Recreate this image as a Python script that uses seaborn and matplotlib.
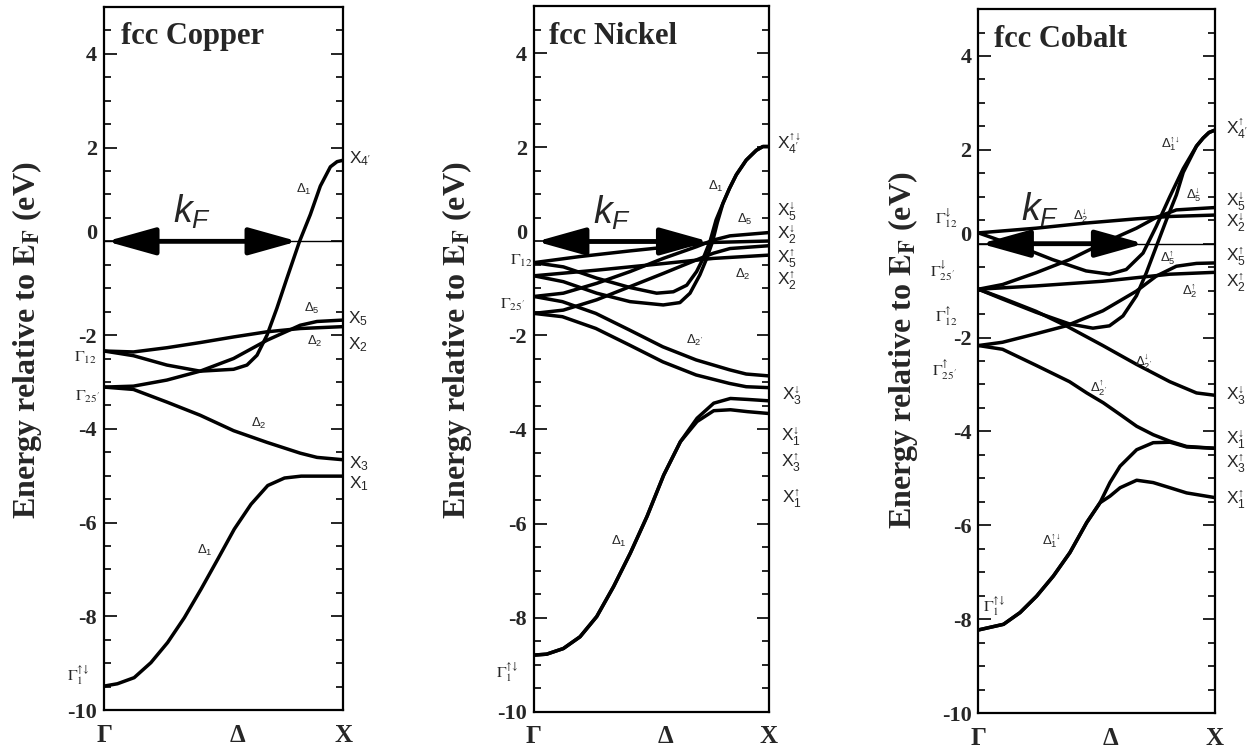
import matplotlib
matplotlib.use("Agg")
import matplotlib.pyplot as plt
import numpy as np
import pandas as pd
import seaborn as sns
from matplotlib.ticker import MultipleLocator
from matplotlib.transforms import ScaledTranslation

sns.set_theme(style="white")
plt.rcParams["font.family"] = ["Liberation Serif", "DejaVu Serif"]
plt.rcParams["mathtext.fontset"] = "custom"
plt.rcParams["mathtext.rm"] = "Liberation Sans"
plt.rcParams["mathtext.it"] = "Liberation Sans:italic"
plt.rcParams["mathtext.bf"] = "Liberation Sans:bold"
plt.rcParams["axes.unicode_minus"] = False

# ---------------- data (k in units of Gamma->X, energy in eV relative to E_F) -------------
fermi_level = 0.0
x_points = [0.0, 0.56, 1.0]
x_labels = ["Γ", "Δ", "X"]

# ---- fcc Copper ----
cu_d1_low_k = [0, .056, .126, .196, .266, .336, .406, .476, .545, .615, .685, .755, .825, 1.0]
cu_d1_low_E = [-9.49, -9.44, -9.31, -8.99, -8.56, -8.03, -7.42, -6.78, -6.14, -5.61, -5.21, -5.05, -5.01, -5.01]
cu_d2p_k = [0, .123, .263, .402, .542, .682, .821, .891, 1.0]
cu_d2p_E = [-3.11, -3.16, -3.43, -3.71, -4.04, -4.29, -4.52, -4.61, -4.66]
cu_d5_k = [0, .123, .263, .402, .542, .682, .821, .891, 1.0]
cu_d5_E = [-3.11, -3.09, -2.96, -2.77, -2.50, -2.11, -1.79, -1.71, -1.68]
cu_d2_k = [0, .123, .263, .402, .542, .682, .821, 1.0]
cu_d2_E = [-2.34, -2.36, -2.27, -2.16, -2.04, -1.93, -1.86, -1.82]
cu_d1_up_k = [0, .123, .263, .402, .542, .598, .640, .682, .723, .765, .818, .863, .905, .947, .975, 1.0]
cu_d1_up_E = [-2.34, -2.44, -2.64, -2.77, -2.73, -2.64, -2.43, -2.0, -1.43, -0.79, 0.0, 0.57, 1.18, 1.59, 1.70, 1.73]
cu_kF = 0.81

# ---- fcc Nickel ----
ni_d1_dn_k = [0, .125, .267, .409, .522, .593, .650, .692, .720, .749, .775, .804, .832, .861, .903, .946, .974, 1.0]
ni_d1_dn_E = [-0.45, -0.54, -0.78, -0.98, -1.10, -1.07, -0.93, -0.64, -0.36, 0.0, 0.46, 0.81, 1.13, 1.42, 1.73, 1.94, 2.02, 2.02]
ni_d1_up_k = [0, .125, .267, .409, .55, .621, .664, .706, .735, .760, .780, .804, .832, .861, .903, .946, .974, 1.0]
ni_d1_up_E = [-0.73, -0.855, -1.10, -1.28, -1.35, -1.30, -1.10, -0.71, -0.36, 0.0, 0.40, 0.81, 1.13, 1.42, 1.73, 1.94, 2.02, 2.02]
ni_d2_dn_k = [0, .196, .409, .621, .763, 1.0]
ni_d2_dn_E = [-0.45, -0.32, -0.20, -0.09, -0.02, 0.01]
ni_d2_up_k = [0, .267, .55, .763, 1.0]
ni_d2_up_E = [-0.73, -0.61, -0.47, -0.36, -0.29]
ni_d5_k = [0, .125, .267, .409, .55, .692, .763, .834, 1.0]
ni_d5_dn_E = [-1.17, -1.10, -0.89, -0.64, -0.36, -0.11, 0.03, 0.12, 0.19]
ni_d5_up_E = [-1.53, -1.46, -1.24, -0.96, -0.68, -0.39, -0.25, -0.15, -0.09]
ni_d2p_k = [0, .121, .263, .405, .548, .69, .832, .903, 1.0]
ni_d2p_dn_E = [-1.17, -1.28, -1.53, -1.88, -2.24, -2.52, -2.73, -2.82, -2.86]
ni_d2p_up_E = [-1.53, -1.60, -1.85, -2.20, -2.56, -2.84, -3.02, -3.09, -3.11]
ni_d1_low_k = [0, .054, .125, .196, .267, .339, .41, .481, .552, .623, .694, .765, .836, .908, 1.0]
ni_d1_low_dn_E = [-8.80, -8.78, -8.66, -8.41, -7.98, -7.34, -6.63, -5.85, -4.97, -4.26, -3.76, -3.44, -3.34, -3.36, -3.39]
ni_d1_low_up_E = [-8.80, -8.78, -8.66, -8.41, -7.98, -7.34, -6.63, -5.85, -4.97, -4.26, -3.83, -3.60, -3.58, -3.62, -3.66]
ni_kF = 0.745

# ---- fcc Cobalt ----
co_d2_dn_k = [0, .243, .455, .668, .809, 1.0]
co_d2_dn_E = [0.23, 0.33, 0.44, 0.53, 0.58, 0.61]
co_d1_dn_k = [0, .102, .173, .314, .455, .554, .625, .696, .752, .809, .866, .922, .95, .975, 1.0]
co_d1_dn_E = [0.23, 0.05, -0.06, -0.34, -0.58, -0.65, -0.55, -0.20, 0.37, 1.0, 1.60, 2.08, 2.25, 2.37, 2.42]
co_d5_dn_k = [0, .102, .243, .385, .526, .668, .752, .837, 1.0]
co_d5_dn_E = [-0.97, -0.87, -0.62, -0.34, 0.01, 0.33, 0.56, 0.72, 0.77]
co_d2_up_k = [0, .243, .526, .809, 1.0]
co_d2_up_E = [-0.97, -0.90, -0.80, -0.65, -0.61]
co_d1_up_k = [0, .102, .243, .385, .484, .554, .611, .668, .71, .752, .795, .837, .866, .922, .95, .975, 1.0]
co_d1_up_E = [-0.97, -1.18, -1.46, -1.71, -1.80, -1.75, -1.54, -1.11, -0.62, -0.06, 0.51, 1.04, 1.52, 2.08, 2.25, 2.37, 2.42]
co_d2p_dn_k = [0, .102, .243, .371, .526, .668, .809, .922, 1.0]
co_d2p_dn_E = [-0.97, -1.16, -1.44, -1.75, -2.17, -2.57, -2.94, -3.18, -3.23]
co_d5_up_k = [0, .102, .243, .371, .526, .668, .752, .837, .922, 1.0]
co_d5_up_E = [-2.17, -2.10, -1.92, -1.75, -1.43, -1.01, -0.69, -0.48, -0.42, -0.41]
co_d2p_up_k = [0, .102, .243, .385, .458, .528, .599, .669, .739, .81, .88, 1.0]
co_d2p_up_E = [-2.17, -2.25, -2.59, -2.94, -3.18, -3.39, -3.64, -3.89, -4.07, -4.21, -4.32, -4.36]
co_d1_low_k = [0, .106, .176, .246, .317, .387, .458, .514, .556, .599, .669, .739, .81, .88, 1.0]
co_d1_low_dn_E = [-8.23, -8.11, -7.86, -7.51, -7.08, -6.58, -5.94, -5.52, -5.09, -4.74, -4.39, -4.24, -4.23, -4.33, -4.36]
co_d1_low_up_E = [-8.23, -8.11, -7.86, -7.51, -7.08, -6.58, -5.94, -5.52, -5.38, -5.20, -5.04, -5.09, -5.20, -5.31, -5.41]
co_kF = 0.70

panel_titles = ["fcc Copper", "fcc Nickel", "fcc Cobalt"]


def frame(bands):
    rows = []
    for name, (k, e) in bands.items():
        for kk, ee in zip(k, e):
            rows.append((name, kk, ee))
    return pd.DataFrame(rows, columns=["band", "k", "E"])


cu_df = frame({
    "d1_low": (cu_d1_low_k, cu_d1_low_E), "d2p": (cu_d2p_k, cu_d2p_E),
    "d5": (cu_d5_k, cu_d5_E), "d2": (cu_d2_k, cu_d2_E), "d1_up": (cu_d1_up_k, cu_d1_up_E)})
ni_df = frame({
    "d1_dn": (ni_d1_dn_k, ni_d1_dn_E), "d1_up": (ni_d1_up_k, ni_d1_up_E),
    "d2_dn": (ni_d2_dn_k, ni_d2_dn_E), "d2_up": (ni_d2_up_k, ni_d2_up_E),
    "d5_dn": (ni_d5_k, ni_d5_dn_E), "d5_up": (ni_d5_k, ni_d5_up_E),
    "d2p_dn": (ni_d2p_k, ni_d2p_dn_E), "d2p_up": (ni_d2p_k, ni_d2p_up_E),
    "d1l_dn": (ni_d1_low_k, ni_d1_low_dn_E), "d1l_up": (ni_d1_low_k, ni_d1_low_up_E)})
co_df = frame({
    "d2_dn": (co_d2_dn_k, co_d2_dn_E), "d1_dn": (co_d1_dn_k, co_d1_dn_E),
    "d5_dn": (co_d5_dn_k, co_d5_dn_E), "d2_up": (co_d2_up_k, co_d2_up_E),
    "d1_up": (co_d1_up_k, co_d1_up_E), "d2p_dn": (co_d2p_dn_k, co_d2p_dn_E),
    "d5_up": (co_d5_up_k, co_d5_up_E), "d2p_up": (co_d2p_up_k, co_d2p_up_E),
    "d1l_dn": (co_d1_low_k, co_d1_low_dn_E), "d1l_up": (co_d1_low_k, co_d1_low_up_E)})

# ---------------- figure ----------------
fig = plt.figure(figsize=(12.52, 7.53), dpi=100)
rects = [[0.0831, 0.0571, 0.1909, 0.9336],
         [0.4265, 0.0551, 0.1877, 0.9363],
         [0.7815, 0.0531, 0.1889, 0.9349]]
dfs = [cu_df, ni_df, co_df]
kfs = [cu_kF, ni_kF, co_kF]
axes = []
for i, (rect, df) in enumerate(zip(rects, dfs)):
    ax = fig.add_axes(rect)
    axes.append(ax)
    sns.lineplot(data=df, x="k", y="E", units="band", estimator=None, sort=False,
                 color="black", lw=2.5, ax=ax, legend=False)
    ax.set_xlim(0, 1)
    ax.set_ylim(-10, 5)
    ax.set_xlabel("")
    ax.set_ylabel("")
    ax.yaxis.set_major_locator(MultipleLocator(2))
    ax.yaxis.set_minor_locator(MultipleLocator(0.5))
    ax.tick_params(axis="y", which="both", direction="in", left=True, right=True,
                   color="black", width=1.2)
    ax.tick_params(axis="y", which="major", length=9, pad=5, labelsize=16)
    ax.tick_params(axis="y", which="minor", length=5)
    ax.set_xticks(x_points)
    ax.set_xticklabels(x_labels, fontsize=18, fontweight="bold")
    ax.tick_params(axis="x", length=0, pad=10)
    for sp in ax.spines.values():
        sp.set_color("black")
        sp.set_linewidth(1.6)
    ax.text(0.07 if i == 0 else 0.065, 4.36, panel_titles[i], fontsize=22,
            fontweight="bold", ha="left", va="center")
    ax.annotate("", xy=(kfs[i], fermi_level), xytext=(0.01, fermi_level),
                arrowprops=dict(arrowstyle="<|-|>,head_length=1.5,head_width=0.42",
                                mutation_scale=20, lw=3.5, color="black",
                                shrinkA=0, shrinkB=0))
    if i != 1:
        ax.axhline(fermi_level, color="black", lw=1.0)

# bold tick labels; the "0" label sits a little higher, as in the original figure
fig.canvas.draw()
for ax in axes:
    for t in ax.yaxis.get_major_ticks():
        t.label1.set_fontweight("bold")
        if abs(t.get_loc()) < 1e-9:
            t.label1.set_transform(t.label1.get_transform()
                                   + ScaledTranslation(0, 7 / 72, fig.dpi_scale_trans))

kf_pos = [(0.37, 0.62), (0.33, 0.6), (0.26, 0.72)]
for ax, (kx, ey) in zip(axes, kf_pos):
    ax.text(kx, ey, r"$k_F$", fontsize=27, ha="center", va="center")

UD = "↑↓"
# band labels inside
band_labels = [
    [(r"$\Delta_1$", .835, 1.1), (r"$\Delta_5$", .87, -1.43), (r"$\Delta_2$", .884, -2.13),
     (r"$\Delta_2$", .647, -3.89), (r"$\Delta_1$", .42, -6.6)],
    [(r"$\Delta_1$", .775, 1.17), (r"$\Delta_5$", .896, 0.46), (r"$\Delta_2$", .889, -0.71),
     (r"$\Delta_{2'}$", .683, -2.1), (r"$\Delta_1$", .36, -6.39)],
    [(r"$\Delta_1^{↑↓}$", .81, 2.13), (r"$\Delta_5^{↓}$", .91, 1.03),
     (r"$\Delta_2^{↓}$", .434, 0.58), (r"$\Delta_5^{↑}$", .80, -0.3),
     (r"$\Delta_2^{↑}$", .894, -1.0), (r"$\Delta_{2'}^{↓}$", .70, -2.52),
     (r"$\Delta_{2'}^{↑}$", .51, -3.08), (r"$\Delta_1^{↑↓}$", .31, -6.33)],
]
for ax, labels in zip(axes, band_labels):
    for txt, kx, ey in labels:
        ax.text(kx, ey, txt, fontsize=9.5, ha="center", va="center")

# X-point labels (right of each panel)
x_end_labels = [
    [(r"$\mathrm{X}_{4'}$", 1.025, 1.77), (r"$\mathrm{X}_5$", 1.02, -1.64),
     (r"$\mathrm{X}_2$", 1.02, -2.21), (r"$\mathrm{X}_3$", 1.025, -4.75),
     (r"$\mathrm{X}_1$", 1.025, -5.18)],
    [(r"$\mathrm{X}_{4'}^{↑↓}$", 1.034, 2.07), (r"$\mathrm{X}_5^{↓}$", 1.034, 0.64),
     (r"$\mathrm{X}_2^{↓}$", 1.034, 0.14), (r"$\mathrm{X}_5^{↑}$", 1.034, -0.37),
     (r"$\mathrm{X}_2^{↑}$", 1.034, -0.84), (r"$\mathrm{X}_3^{↓}$", 1.055, -3.29),
     (r"$\mathrm{X}_1^{↓}$", 1.05, -4.16), (r"$\mathrm{X}_3^{↑}$", 1.05, -4.71),
     (r"$\mathrm{X}_1^{↑}$", 1.055, -5.48)],
    [(r"$\mathrm{X}_{4'}^{↑}$", 1.047, 2.44), (r"$\mathrm{X}_5^{↓}$", 1.047, 0.89),
     (r"$\mathrm{X}_2^{↓}$", 1.047, 0.44), (r"$\mathrm{X}_5^{↑}$", 1.047, -0.27),
     (r"$\mathrm{X}_2^{↑}$", 1.047, -0.83), (r"$\mathrm{X}_3^{↓}$", 1.047, -3.25),
     (r"$\mathrm{X}_1^{↓}$", 1.047, -4.17), (r"$\mathrm{X}_3^{↑}$", 1.047, -4.7),
     (r"$\mathrm{X}_1^{↑}$", 1.047, -5.45)],
]
for ax, labels in zip(axes, x_end_labels):
    for txt, kx, ey in labels:
        ax.text(kx, ey, txt, fontsize=12.5, ha="left", va="center", clip_on=False)

# Gamma-point labels (left of each panel)
g_labels = [
    [(r"$\Gamma_{12}$", -0.03, -2.49), (r"$\Gamma_{25'}$", -0.02, -3.31),
     (r"$\Gamma_1^{↑↓}$", -0.06, -9.26)],
    [(r"$\Gamma_{12}$", -0.005, -0.42), (r"$\Gamma_{25'}$", -0.04, -1.35),
     (r"$\Gamma_1^{↑↓}$", -0.068, -9.16)],
    [(r"$\Gamma_{12}^{↓}$", -0.087, 0.55), (r"$\Gamma_{25'}^{↓}$", -0.1, -0.57),
     (r"$\Gamma_{12}^{↑}$", -0.09, -1.55), (r"$\Gamma_{25'}^{↑}$", -0.09, -2.68)],
]
for ax, labels in zip(axes, g_labels):
    for txt, kx, ey in labels:
        ax.text(kx, ey, txt, fontsize=11.5, ha="right", va="center", clip_on=False,
                math_fontfamily="stix")
axes[2].text(0.02, -7.72, r"$\Gamma_1^{↑↓}$", fontsize=11.5, ha="left",
             va="center", math_fontfamily="stix")

# y labels
ylab_pos = [(0.0216, 0.548), (0.365, 0.548), (0.7212, 0.535)]
for (xf, yf) in ylab_pos:
    fig.text(xf, yf, r"Energy relative to $\mathbf{E_F}$ (eV)", rotation=90,
             ha="center", va="center", fontsize=23, fontweight="bold",
             math_fontfamily="stix")

fig.savefig("out.png", dpi=100)
